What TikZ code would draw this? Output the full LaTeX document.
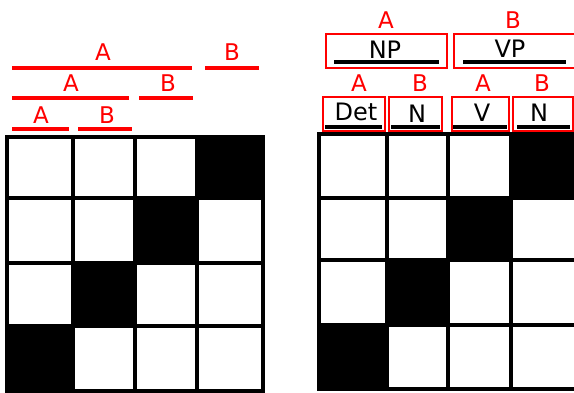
\documentclass[tikz,border=0pt]{standalone}
\usepackage{fontspec}
\setmainfont{DejaVu Sans}
\begin{document}
\begin{tikzpicture}[x=1pt,y=-1pt,
  lab/.style={text=red,font=\fontsize{23}{23}\selectfont,inner sep=0pt},
  cat/.style={text=black,font=\fontsize{24}{24}\selectfont,inner sep=0pt},
  redline/.style={red,line width=3.2pt},
  redbox/.style={draw=red,line width=1.6pt},
  uline/.style={black,line width=3.2pt},
  gridline/.style={black,line width=3.6pt}]
\useasboundingbox (0,0) rectangle (574,392);
% ---------- left side labels
\node[lab] (l1a) at (103,52) {A};
\node[lab] (l1b) at (232,52) {B};
\draw[redline] (12,68) -- (192,68);
\draw[redline] (205,68) -- (259,68);
\node[lab] (l2a) at (71,83) {A};
\node[lab] (l2b) at (168,83) {B};
\draw[redline] (12,98) -- (129,98);
\draw[redline] (139,98) -- (193,98);
\node[lab] (l3a) at (41,115) {A};
\node[lab] (l3b) at (107,115) {B};
\draw[redline] (12,129) -- (69,129);
\draw[redline] (78,129) -- (132,129);
% ---------- left grid
\fill (197,137) rectangle (263,198);
\fill (135,198) rectangle (197,263);
\fill (73,263) rectangle (135,326);
\fill (7,326) rectangle (73,391);
\draw[gridline] (7,137) rectangle (263,391);
\foreach \x in {73,135,197} \draw[gridline] (\x,137) -- (\x,391);
\foreach \y in {198,263,326} \draw[gridline] (7,\y) -- (263,\y);
% ---------- right side labels
\node[lab] (r1a) at (386,20) {A};
\node[lab] (r1b) at (513,20) {B};
\draw[redbox] (326,34) rectangle (447,68);
\draw[redbox] (454,34) rectangle (578,68);
\node[cat] (np) at (385,50) {NP};
\node[cat] (vp) at (510,49) {VP};
\draw[uline] (334,62) -- (439,62);
\draw[uline] (463,62) -- (566,62);
\node[lab] (r2a) at (359,83) {A};
\node[lab] (r2b) at (420,83) {B};
\node[lab] (r2c) at (483,83) {A};
\node[lab] (r2d) at (542,83) {B};
\draw[redbox] (323,97) rectangle (385,131);
\draw[redbox] (389,97) rectangle (442,131);
\draw[redbox] (452,97) rectangle (509,131);
\draw[redbox] (513,97) rectangle (573,131);
\node[cat] (det) at (356,112) {Det};
\node[cat] (n1) at (417,114) {N};
\node[cat] (v) at (482,113) {V};
\node[cat] (n2) at (539,113) {N};
\draw[uline] (325,127) -- (382,127);
\draw[uline] (391,127) -- (440,127);
\draw[uline] (453,127) -- (507,127);
\draw[uline] (517,127) -- (570,127);
% ---------- right grid
\fill (511,134) rectangle (578,197);
\fill (448,197) rectangle (511,260);
\fill (387,260) rectangle (448,325);
\fill (319,325) rectangle (387,389);
\draw[gridline] (319,134) rectangle (578,389);
\foreach \x in {387,448,511} \draw[gridline] (\x,134) -- (\x,389);
\foreach \y in {198,260,325} \draw[gridline] (319,\y) -- (578,\y);
\end{tikzpicture}
\end{document}
